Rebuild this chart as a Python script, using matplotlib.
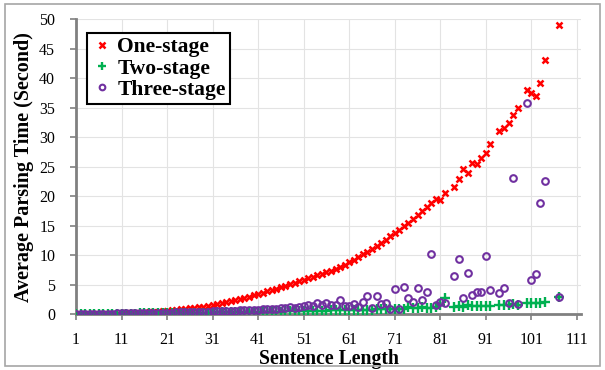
import numpy as np
import matplotlib
matplotlib.use('Agg')
import matplotlib.pyplot as plt
from matplotlib.patches import Rectangle

# ------------------------------------------------------------------
# Data
# ------------------------------------------------------------------
# sentence lengths: 1..82 continuous, then sparse
lengths = list(range(1, 83)) + [84, 85, 86, 87, 88, 89, 90, 91, 92,
                                 94, 95, 96, 97, 98,
                                 100, 101, 102, 103, 104, 107]

one_stage = [
    0.01, 0.01, 0.02, 0.02, 0.03, 0.04, 0.05, 0.06, 0.07, 0.08,
    0.10, 0.12, 0.15, 0.18, 0.21, 0.25, 0.30, 0.35, 0.41, 0.48,
    0.55, 0.62, 0.70, 0.78, 0.87, 0.96, 1.06, 1.16, 1.27, 1.38,
    1.50, 1.66, 1.82, 1.98, 2.14, 2.32, 2.50, 2.70, 2.92, 3.15,
    3.38, 3.60, 3.82, 4.05, 4.28, 4.52, 4.76, 5.02, 5.28, 5.54,
    5.80, 6.05, 6.30, 6.55, 6.80, 7.05, 7.35, 7.65, 8.00, 8.40,
    8.80, 9.20, 9.65, 10.1, 10.6, 11.1, 11.6, 12.1, 12.6, 13.2,
    13.7, 14.3, 14.9, 15.5, 16.1, 16.8, 17.5, 18.2, 18.8, 19.6,
    19.4, 20.5,
    21.5, 22.9, 24.7, 23.9, 25.7, 25.4, 26.4, 27.3, 28.9,
    31.1, 31.6, 32.5, 33.8, 34.9,
    38.1, 37.6, 37.0, 39.3, 43.1, 49.1,
]

two_stage = [
    0.01, 0.01, 0.02, 0.02, 0.03, 0.03, 0.04, 0.04, 0.05, 0.05,
    0.06, 0.07, 0.07, 0.08, 0.09, 0.10, 0.11, 0.12, 0.13, 0.14,
    0.15, 0.16, 0.17, 0.18, 0.19, 0.20, 0.21, 0.22, 0.23, 0.24,
    0.25, 0.26, 0.27, 0.28, 0.29, 0.30, 0.31, 0.32, 0.33, 0.35,
    0.36, 0.37, 0.38, 0.40, 0.41, 0.42, 0.44, 0.45, 0.47, 0.48,
    0.50, 0.52, 0.53, 0.55, 0.57, 0.58, 0.60, 0.62, 0.63, 0.65,
    0.67, 0.69, 0.70, 0.72, 0.74, 0.76, 0.78, 0.80, 0.82, 0.84,
    0.86, 0.90, 0.92, 1.20, 0.95, 1.00, 1.25, 1.05, 1.10, 1.15,
    1.45, 2.70,
    1.25, 1.40, 1.20, 1.60, 1.30, 1.30, 1.30, 1.30, 1.30,
    1.50, 1.60, 1.50, 1.70, 1.60,
    1.80, 1.80, 1.80, 1.90, 2.10, 2.90,
]

three_stage = [
    0.03, 0.03, 0.04, 0.04, 0.05, 0.05, 0.06, 0.07, 0.08, 0.09,
    0.10, 0.11, 0.12, 0.13, 0.14, 0.16, 0.17, 0.18, 0.20, 0.22,
    0.23, 0.25, 0.27, 0.29, 0.31, 0.33, 0.35, 0.37, 0.39, 0.42,
    0.44, 0.47, 0.50, 0.52, 0.55, 0.58, 0.62, 0.65, 0.68, 0.72,
    0.75, 0.80, 0.90, 0.85, 0.92, 1.00, 1.05, 1.25, 1.10, 1.20,
    1.35, 1.45, 1.30, 1.90, 1.50, 1.85, 1.53, 1.55, 2.38, 1.42,
    1.42, 1.64, 1.25, 1.98, 3.06, 1.08, 3.06, 1.64, 1.93, 0.80,
    4.19, 0.85, 4.64, 2.77, 1.98, 4.47, 2.38, 3.74, 10.2, 1.53,
    2.10, 1.80,
    6.45, 9.40, 2.77, 6.90, 3.20, 3.70, 3.70, 9.80, 4.07,
    3.50, 4.47, 1.80, 23.1, 1.70,
    35.9, 5.80, 6.85, 18.85, 22.5, 2.83,
]

x_ticks = list(range(1, 112, 10))
y_ticks = list(range(0, 51, 5))

# ------------------------------------------------------------------
# Plot
# ------------------------------------------------------------------
plt.rcParams['font.family'] = ['Liberation Serif', 'DejaVu Serif']

fig = plt.figure(figsize=(6.05, 3.70), dpi=100)
ax = fig.add_axes([0.1256, 0.1514, 0.8355, 0.7959])

ax.plot(lengths, one_stage, linestyle='none', marker='x', color='#FF0000',
        markersize=4.8, markeredgewidth=1.8, label='One-stage', zorder=3)
ax.plot(lengths, two_stage, linestyle='none', marker='+', color='#00B050',
        markersize=6.5, markeredgewidth=1.7, label='Two-stage', zorder=4)
ax.plot(lengths, three_stage, linestyle='none', marker='o', color='#7030A0',
        markerfacecolor='none', markersize=4.8, markeredgewidth=1.5,
        label='Three-stage', zorder=5)

ax.set_xlim(1, 112)
ax.set_ylim(0, 50)
ax.set_xticks(x_ticks)
ax.set_yticks(y_ticks)
ax.tick_params(axis='both', labelsize=11.5, length=4, width=1.2,
               color='#808080', direction='out')
ax.tick_params(axis='y', pad=11)
ax.tick_params(axis='x', pad=9)

ax.grid(True, color='#E3E3E3', linewidth=0.8)
ax.set_axisbelow(True)
for side in ['top', 'right']:
    ax.spines[side].set_visible(False)
for side in ['left', 'bottom']:
    ax.spines[side].set_color('#808080')
    ax.spines[side].set_linewidth(2)

ax.set_xlabel('Sentence Length', fontsize=14.2, fontweight='bold', labelpad=1)
ax.set_ylabel('Average Parsing Time (Second)', fontsize=14.5,
              fontweight='bold', labelpad=4)

leg = ax.legend(loc='upper left', bbox_to_anchor=(0.0218, 0.954),
                borderaxespad=0, markerscale=0.85,
                prop={'size': 15.5, 'weight': 'bold'}, fancybox=False,
                framealpha=1, edgecolor='black', handlelength=1.0,
                handletextpad=0.2, borderpad=0.2, labelspacing=0.05)
leg.get_frame().set_linewidth(1.5)

# chart-area border
fig.patches.append(Rectangle((5 / 605, 4 / 370), 595 / 605, 362 / 370,
                             transform=fig.transFigure, fill=False,
                             edgecolor='#A6A6A6', linewidth=1.2))

fig.savefig('out.png', dpi=100)
plt.close(fig)
